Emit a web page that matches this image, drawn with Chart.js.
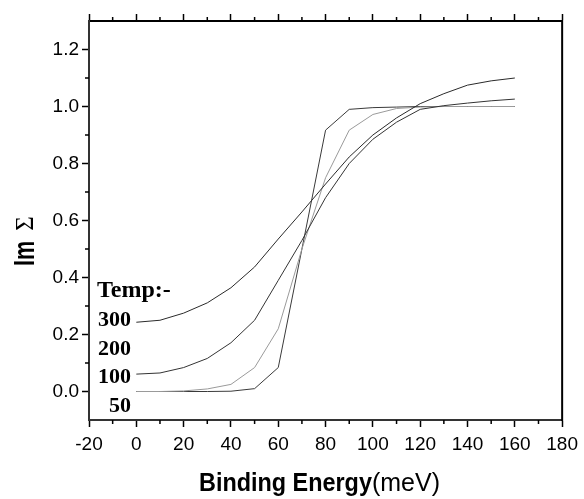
<!DOCTYPE html>
<html>
<head>
<meta charset="utf-8">
<script src="https://cdn.jsdelivr.net/npm/chart.js@4.4.0/dist/chart.umd.min.js"></script>
<style>
  html, body { margin: 0; padding: 0; background: #fff; }
  #wrap { width: 584px; height: 499px; }
</style>
</head>
<body>
<div id="wrap"><canvas id="imsigma-chart" width="584" height="499"></canvas></div>
<script>
// binding energy (meV)
const energies = [0, 10, 20, 30, 40, 50, 60, 70, 80, 90, 100, 110, 120, 130, 140, 150, 160];

// Im Sigma for each temperature
const temp300 = [0.243, 0.25, 0.275, 0.311, 0.364, 0.437, 0.535, 0.63, 0.728, 0.823, 0.90, 0.96, 1.01, 1.045, 1.075, 1.09, 1.10];
const temp200 = [0.061, 0.065, 0.084, 0.116, 0.171, 0.25, 0.39, 0.53, 0.68, 0.80, 0.885, 0.945, 0.99, 1.003, 1.012, 1.02, 1.026];
const temp100 = [0, 0, 0.002, 0.009, 0.025, 0.084, 0.22, 0.50, 0.75, 0.917, 0.972, 0.993, 0.998, 1.0, 1.0, 1.0, 1.0];
const temp50 = [0, 0, 0, 0, 0.001, 0.01, 0.084, 0.50, 0.917, 0.99, 0.996, 0.998, 1.0, 1.0, 1.0, 1.0, 1.0];

// tick labels
const xTicks = [-20, 0, 20, 40, 60, 80, 100, 120, 140, 160, 180];
const xMinor = [-10, 10, 30, 50, 70, 90, 110, 130, 150, 170];
const yTicks = [0.0, 0.2, 0.4, 0.6, 0.8, 1.0, 1.2];
const yMinor = [0.1, 0.3, 0.5, 0.7, 0.9, 1.1];

const tempLabels = ['300', '200', '100', '50'];

const toPoints = (ys) => energies.map((x, i) => ({ x: x, y: ys[i] }));

const line = (label, ys, color) => ({
  label: label,
  data: toPoints(ys),
  borderColor: color,
  borderWidth: 1,
  pointRadius: 0,
  tension: 0,
  fill: false,
});

// minor ticks, frame and the text that is not part of an axis
const decor = {
  id: 'decor',
  afterDraw(chart) {
    const { ctx, chartArea: a, scales } = chart;
    ctx.save();
    ctx.strokeStyle = '#000';
    ctx.lineWidth = 2;
    ctx.beginPath();
    ctx.moveTo(a.right, a.top - 1);
    ctx.lineTo(a.right, a.bottom + 1);
    ctx.stroke();

    ctx.lineWidth = 1.5;
    ctx.beginPath();
    xMinor.forEach((v) => {
      const px = scales.x.getPixelForValue(v);
      ctx.moveTo(px, a.bottom);
      ctx.lineTo(px, a.bottom + 4);
      ctx.moveTo(px, a.top);
      ctx.lineTo(px, a.top - 4);
    });
    yMinor.forEach((v) => {
      const py = scales.y.getPixelForValue(v);
      ctx.moveTo(a.left, py);
      ctx.lineTo(a.left - 4, py);
    });
    ctx.stroke();

    // temperature labels
    ctx.fillStyle = '#000';
    ctx.textBaseline = 'alphabetic';
    ctx.font = 'bold 24px "Liberation Serif"';
    ctx.textAlign = 'left';
    ctx.fillText('Temp:-', 97, 297);
    ctx.font = 'bold 22px "Liberation Serif"';
    ctx.textAlign = 'right';
    const rows = [326, 355, 383, 411.5];
    tempLabels.forEach((t, i) => ctx.fillText(t, 131, rows[i]));

    // x axis title
    ctx.textAlign = 'left';
    ctx.save();
    ctx.translate(199, 491);
    ctx.scale(0.9, 1);
    ctx.font = 'bold 26px "Liberation Sans"';
    ctx.fillText('Binding Energy', 0, 0);
    const w = ctx.measureText('Binding Energy').width;
    ctx.restore();
    ctx.font = '25px "Liberation Sans"';
    ctx.fillText('(meV)', 199 + w * 0.9, 491);

    // y axis title
    ctx.save();
    ctx.translate(33.5, 266);
    ctx.rotate(-Math.PI / 2);
    ctx.save();
    ctx.scale(0.72, 1);
    ctx.font = 'bold 30px "Liberation Sans"';
    ctx.fillText('Im', 0, 0);
    const wi = ctx.measureText('Im').width * 0.72;
    ctx.restore();
    ctx.font = '25px "Liberation Serif"';
    ctx.fillText('Σ', wi + 10, -1);
    ctx.restore();

    ctx.restore();
  },
};

const tickFont = { family: '"Liberation Sans", Arial, sans-serif', size: 19 };

new Chart(document.getElementById('imsigma-chart'), {
  type: 'line',
  data: {
    datasets: [
      line('300', temp300, '#2a2a2a'),
      line('200', temp200, '#333333'),
      line('100', temp100, '#9a9a9a'),
      line('50', temp50, '#3a3a3a'),
    ],
  },
  options: {
    responsive: false,
    animation: false,
    layout: { padding: { left: 0, right: 18, top: 0, bottom: 0 } },
    plugins: {
      legend: { display: false },
      tooltip: { enabled: false },
    },
    scales: {
      x: {
        type: 'linear',
        position: 'bottom',
        min: -20,
        max: 180,
        afterBuildTicks: (s) => { s.ticks = xTicks.map((v) => ({ value: v })); },
        afterFit: (s) => { s.height = 79; },
        ticks: { font: tickFont, color: '#000', padding: 6, maxRotation: 0, autoSkip: false },
        grid: { drawOnChartArea: false, tickLength: 7, tickWidth: 1.5, tickColor: '#000' },
        border: { color: '#333', width: 2 },
      },
      xTop: {
        type: 'linear',
        position: 'top',
        min: -20,
        max: 180,
        afterBuildTicks: (s) => { s.ticks = xTicks.map((v) => ({ value: v })); },
        afterFit: (s) => { s.height = 21; },
        ticks: { display: false },
        grid: { drawOnChartArea: false, tickLength: 7, tickWidth: 1.5, tickColor: '#000' },
        border: { color: '#000', width: 2 },
      },
      y: {
        type: 'linear',
        position: 'left',
        min: -0.1,
        max: 1.3,
        afterBuildTicks: (s) => { s.ticks = yTicks.map((v) => ({ value: v })); },
        afterFit: (s) => { s.width = 89; },
        ticks: {
          font: tickFont,
          color: '#000',
          padding: 3,
          callback: (v) => Number(v).toFixed(1),
        },
        grid: { drawOnChartArea: false, tickLength: 7, tickWidth: 1.5, tickColor: '#000' },
        border: { color: '#333', width: 2 },
      },
    },
  },
  plugins: [decor],
});
</script>
</body>
</html>
